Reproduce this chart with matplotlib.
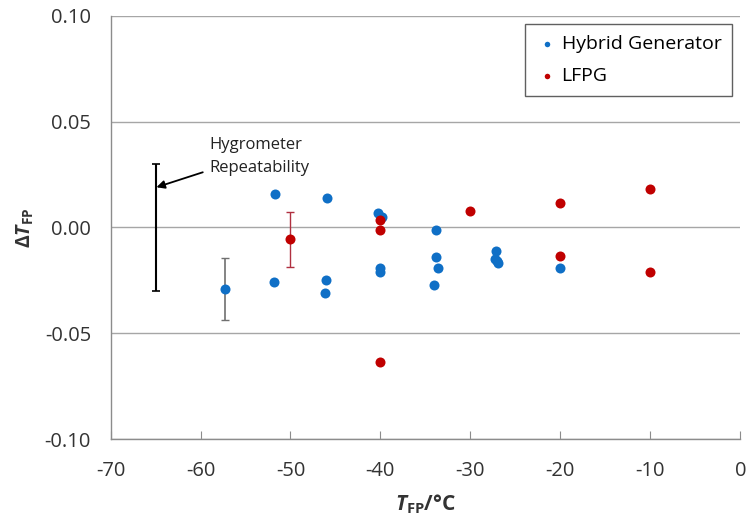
import matplotlib
matplotlib.use("Agg")
import matplotlib.pyplot as plt

plt.rcParams['font.family'] = ['Open Sans', 'DejaVu Sans']
plt.rcParams['axes.unicode_minus'] = False
plt.rcParams['mathtext.fontset'] = 'custom'
plt.rcParams['mathtext.rm'] = 'Open Sans:bold'
plt.rcParams['mathtext.it'] = 'Open Sans:italic:bold'
plt.rcParams['mathtext.bf'] = 'Open Sans:bold'

# Data
hybrid_x = [-57.3, -51.7, -51.8, -45.9, -46.0, -46.2, -40.3, -39.8, -40.1, -40.1,
            -33.8, -33.8, -33.6, -34.0, -27.2, -27.3, -27.0, -26.9, -20.0]
hybrid_y = [-0.029, 0.016, -0.026, 0.014, -0.025, -0.031, 0.007, 0.005, -0.019, -0.021,
            -0.001, -0.014, -0.019, -0.027, -0.011, -0.015, -0.016, -0.017, -0.019]
lfpg_x = [-50.0, -40.0, -40.0, -40.0, -30.0, -20.0, -20.0, -10.0, -10.0]
lfpg_y = [-0.0055, 0.0035, -0.001, -0.0635, 0.0077, 0.0118, -0.0133, 0.018, -0.021]

hybrid_err_x = -57.3
hybrid_err_y = -0.029
hybrid_err = 0.0148
lfpg_err_x = -50.0
lfpg_err_y = -0.0055
lfpg_err = 0.013
repeat_x = -65.0
repeat_y = 0.0
repeat_err = 0.030

blue = '#0F6FC6'
red = '#C00000'

fig = plt.figure(figsize=(7.47, 5.29), dpi=100)
ax = fig.add_axes([0.148, 0.170, 0.843, 0.800])

ax.errorbar([repeat_x], [repeat_y], yerr=[repeat_err], fmt='none', ecolor='black',
            elinewidth=1.5, capsize=3, capthick=1.2, zorder=3)
ax.errorbar([hybrid_err_x], [hybrid_err_y], yerr=[hybrid_err], fmt='none', ecolor='#707070',
            elinewidth=1.2, capsize=3, capthick=1.0, zorder=3)
ax.errorbar([lfpg_err_x], [lfpg_err_y], yerr=[lfpg_err], fmt='none', ecolor='#B03040',
            elinewidth=1.0, capsize=3, capthick=1.0, zorder=3)

ax.scatter(hybrid_x, hybrid_y, s=52, color=blue, zorder=4, label='Hybrid Generator', linewidths=0)
ax.scatter(lfpg_x, lfpg_y, s=52, color=red, zorder=4, label='LFPG', linewidths=0)

ax.annotate('Hygrometer\nRepeatability', xy=(-64.9, 0.019), xytext=(-59.0, 0.0335),
            fontsize=12, ha='left', va='center', color='#222222', linespacing=1.55,
            arrowprops=dict(arrowstyle='-|>', color='black', lw=1.3, mutation_scale=12,
                            shrinkA=3, shrinkB=0, relpos=(0, 0.15)))

ax.set_xlim(-70, 0)
ax.set_ylim(-0.10, 0.10)
ax.set_xticks(range(-70, 1, 10))
ax.set_yticks([-0.10, -0.05, 0.0, 0.05, 0.10])
ax.set_yticklabels(['-0.10', '-0.05', '0.00', '0.05', '0.10'])
ax.yaxis.grid(True, color='#A6A6A6', lw=1.0)
ax.set_axisbelow(True)
for s in ['top', 'right']:
    ax.spines[s].set_visible(False)
for s in ['left', 'bottom']:
    ax.spines[s].set_color('#8C8C8C')
    ax.spines[s].set_linewidth(1.0)
ax.tick_params(axis='x', direction='in', length=6, color='#8C8C8C', labelsize=14.5,
               pad=16, labelcolor='#333333')
ax.tick_params(axis='y', length=0, labelsize=14.5, pad=14, labelcolor='#333333')

ax.set_xlabel(r'$\mathit{T}_{\mathrm{FP}}$/°C', fontsize=15, fontweight='bold', labelpad=8,
              color='#333333')
ax.set_ylabel(r'$\Delta\mathit{T}_{\mathrm{FP}}$', fontsize=14, labelpad=6, color='#333333')

leg = ax.legend(loc='upper right', bbox_to_anchor=(0.987, 0.981), borderaxespad=0,
                fontsize=14, markerscale=0.55, handletextpad=0.15, borderpad=0.55,
                labelspacing=0.75, fancybox=False, edgecolor='#606060', framealpha=1,
                handlelength=1.2)
leg.get_frame().set_linewidth(1.0)

fig.savefig('out.png', dpi=100)
